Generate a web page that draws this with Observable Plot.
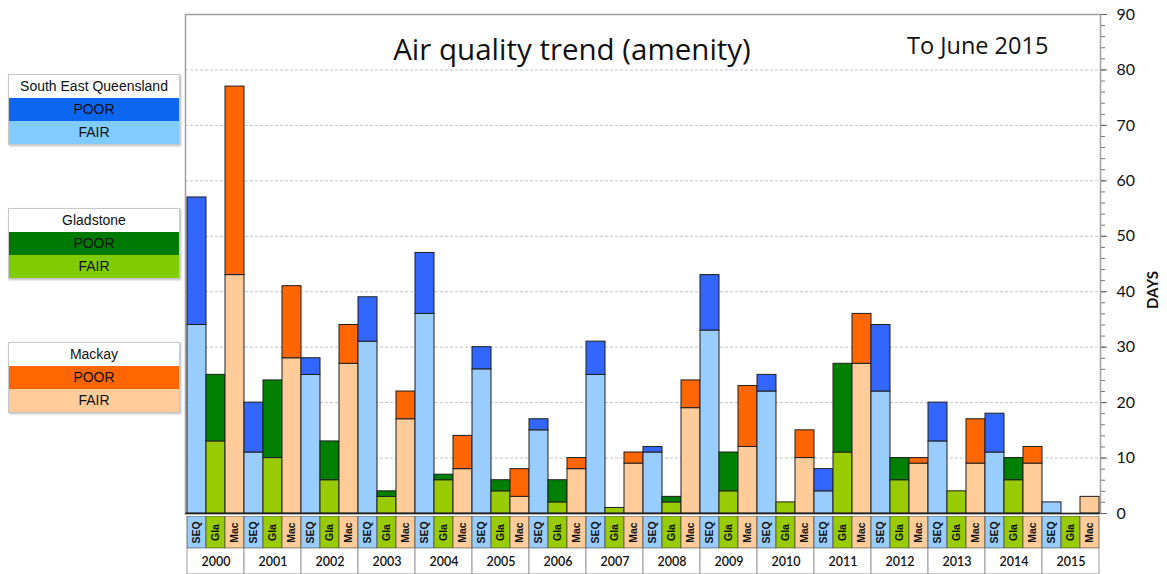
<!DOCTYPE html>
<html>
<head>
<meta charset="utf-8">
<script src="https://cdn.jsdelivr.net/npm/d3@7"></script>
<script src="https://cdn.jsdelivr.net/npm/@observablehq/plot@0.6"></script>
<style>
  html, body { margin: 0; padding: 0; background: #fff; }
  #wrap { position: relative; width: 1167px; height: 574px; overflow: hidden; font-family: Lato, "Open Sans", sans-serif; }
  #wrap svg { display: block; }
  .legend { position: absolute; left: 8px; width: 170px; border: 1px solid #c8c8c8; box-shadow: 1px 1px 2px #bbb; font-family: "Liberation Sans", Arial, sans-serif; font-size: 14px; }
  .legend div { height: 23px; line-height: 23px; text-align: center; color: #111; }
  #title { position: absolute; left: 572px; top: 28px; transform: translateX(-50%); font-family: "Open Sans", sans-serif; font-size: 29.5px; white-space: nowrap; color: #111; }
  #sub { position: absolute; left: 907px; top: 29px; font-family: "Open Sans", sans-serif; font-size: 23.5px; white-space: nowrap; color: #111; }
  #days { position: absolute; left: 1152px; top: 290px; transform: translate(-50%, -50%) rotate(-90deg); font-weight: bold; font-size: 15px; color: #111; }
</style>
</head>
<body>
<div id="wrap">
  <div id="charts"></div>
  <div id="title">Air quality trend (amenity)</div>
  <div id="sub">To June 2015</div>
  <div id="days">DAYS</div>
  <div id="legends"></div>
</div>
<script>
// ---- data ----
const years = ["2000","2001","2002","2003","2004","2005","2006","2007","2008","2009","2010","2011","2012","2013","2014","2015"];
const regions = ["SEQ", "Gla", "Mac"];
const regionNames = ["South East Queensland", "Gladstone", "Mackay"];
const levels = ["POOR", "FAIR"];
// days per year (FAIR and POOR counts)
const seqFair = [34, 11, 25, 31, 36, 26, 15, 25, 11, 33, 22, 4, 22, 13, 11, 2];
const seqPoor = [23, 9, 3, 8, 11, 4, 2, 6, 1, 10, 3, 4, 12, 7, 7, 0];
const glaFair = [13, 10, 6, 3, 6, 4, 2, 1, 2, 4, 2, 11, 6, 4, 6, 0];
const glaPoor = [12, 14, 7, 1, 1, 2, 4, 0, 1, 7, 0, 16, 4, 0, 4, 0];
const macFair = [43, 28, 27, 17, 8, 3, 8, 9, 19, 12, 10, 27, 9, 9, 9, 3];
const macPoor = [34, 13, 7, 5, 6, 5, 2, 2, 5, 11, 5, 9, 1, 8, 3, 0];
const yTicks = [0, 10, 20, 30, 40, 50, 60, 70, 80, 90];

// ---- styling ----
const barColors = {
  SEQ: {FAIR: "#99ccff", POOR: "#3366ff"},
  Gla: {FAIR: "#99cc00", POOR: "#008000"},
  Mac: {FAIR: "#ffcc99", POOR: "#ff6600"}
};
const legendColors = [
  {POOR: "#0d66f2", FAIR: "#80ccff"},
  {POOR: "#007a00", FAIR: "#80cc00"},
  {POOR: "#ff6600", FAIR: "#ffcc99"}
];
const legendTops = [74, 208, 342];

// ---- build table ----
const fairSeries = {SEQ: seqFair, Gla: glaFair, Mac: macFair};
const poorSeries = {SEQ: seqPoor, Gla: glaPoor, Mac: macPoor};
const keys = [];
const rows = [];
years.forEach((yr, i) => {
  regions.forEach(r => {
    const key = yr + " " + r;
    keys.push(key);
    rows.push({key, region: r, level: "FAIR", value: fairSeries[r][i], color: barColors[r].FAIR});
    rows.push({key, region: r, level: "POOR", value: poorSeries[r][i], color: barColors[r].POOR});
  });
});
const cats = keys.map(k => { const r = k.split(" ")[1]; return {key: k, region: r, color: barColors[r].FAIR}; });

const common = {width: 1167, marginLeft: 185, marginRight: 67};

const main = Plot.plot({
  ...common,
  height: 516, marginTop: 14, marginBottom: 3,
  x: {domain: keys, padding: 0, axis: null},
  y: {domain: [0, 90], axis: null},
  color: {type: "identity"},
  style: {fontFamily: "Lato, 'Open Sans', sans-serif", overflow: "visible", background: "transparent"},
  marks: [
    Plot.gridY(yTicks.filter(t => t > 0 && t < 90), {stroke: "#c4c4c4", strokeOpacity: 1, strokeDasharray: "3,2"}),
    Plot.frame({stroke: "#a0a0a0", strokeWidth: 1.5}),
    Plot.barY(rows.filter(d => d.value > 0), {x: "key", y: "value", fill: "color", stroke: "#1e1e1e", strokeWidth: 1}),
    Plot.ruleY([0], {stroke: "#222", strokeWidth: 1.5}),
    Plot.axisY(d3.range(0, 91, 2), {anchor: "right", tickSize: 4, text: null, label: null, stroke: "#777"}),
    Plot.axisY(yTicks, {anchor: "right", tickSize: 6, tickPadding: 10, fontSize: 16, label: null, stroke: "#666", fill: "#111"})
  ]
});

const strip = Plot.plot({
  ...common,
  height: 32, marginTop: 0, marginBottom: 0,
  x: {domain: keys, padding: 0, axis: null},
  color: {type: "identity"},
  style: {fontFamily: "'Liberation Sans', Arial, sans-serif", background: "transparent"},
  marks: [
    Plot.cell(cats, {x: "key", fill: "color", stroke: "#444", strokeWidth: 0.7}),
    Plot.text(cats, {x: "key", text: "region", rotate: -90, fontSize: 10.5, fontWeight: "bold", fill: "#111"})
  ]
});

const yearStrip = Plot.plot({
  ...common,
  height: 26, marginTop: 0, marginBottom: 0,
  x: {domain: years, padding: 0, axis: null},
  style: {fontFamily: "Lato, 'Open Sans', sans-serif", background: "transparent"},
  marks: [
    Plot.cell(years, {x: d => d, fill: "white", stroke: "#999", strokeWidth: 1}),
    Plot.text(years, {x: d => d, text: d => d, fontSize: 12.5, fontWeight: 600, fill: "#111"})
  ]
});

const charts = document.getElementById("charts");
charts.append(main, strip, yearStrip);

// ---- legends ----
const lg = document.getElementById("legends");
regionNames.forEach((name, i) => {
  const box = document.createElement("div");
  box.className = "legend";
  box.style.top = legendTops[i] + "px";
  const h = document.createElement("div");
  h.textContent = name; h.style.background = "#fff";
  box.append(h);
  levels.forEach(l => {
    const d = document.createElement("div");
    d.textContent = l; d.style.background = legendColors[i][l];
    box.append(d);
  });
  lg.append(box);
});
</script>
</body>
</html>
